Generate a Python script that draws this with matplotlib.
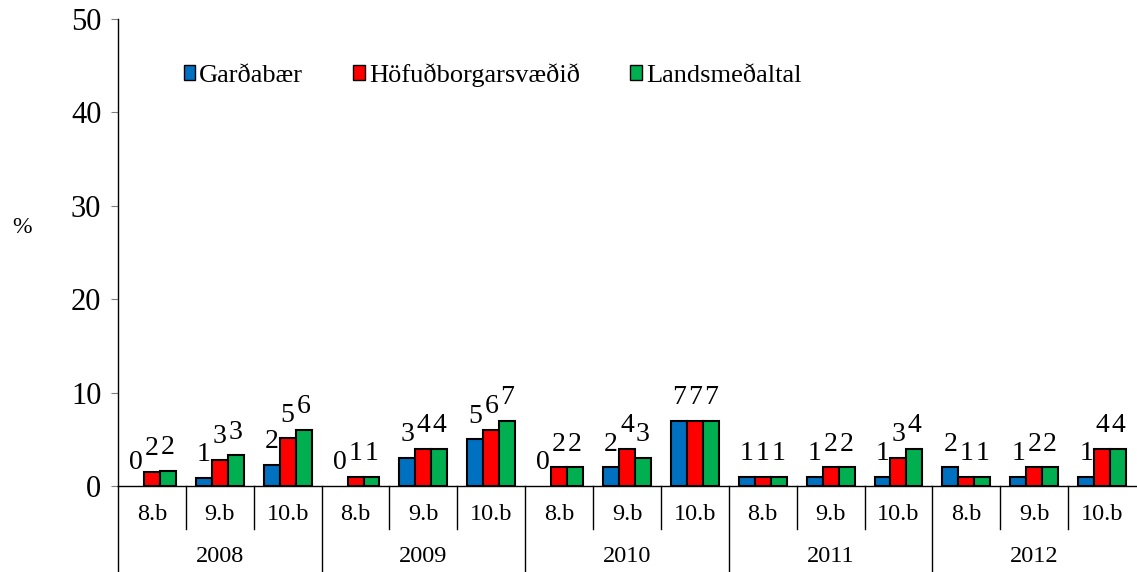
import matplotlib.pyplot as plt
import numpy as np

plt.rcParams['font.family'] = ['Liberation Serif', 'DejaVu Serif']

years = ["2008", "2009", "2010", "2011", "2012"]
grades = ["8.b", "9.b", "10.b"]

gardabaer = [0.0, 0.9, 2.25, 0.0, 3.0, 5.0, 0.0, 2.0, 7.0, 1.0, 1.0, 1.0, 2.0, 1.0, 1.0]
hofudborg = [1.5, 2.8, 5.1, 1.0, 4.0, 6.0, 2.0, 4.0, 7.0, 1.0, 2.0, 3.0, 1.0, 2.0, 4.0]
landsmedal = [1.6, 3.3, 6.0, 1.0, 4.0, 7.0, 2.0, 3.0, 7.0, 1.0, 2.0, 4.0, 1.0, 2.0, 4.0]

series = [("Garðabær", gardabaer, "#0070C0"),
          ("Höfuðborgarsvæðið", hofudborg, "#FF0000"),
          ("Landsmeðaltal", landsmedal, "#00B050")]

fig = plt.figure(figsize=(11.37, 5.72), dpi=100)
ax = fig.add_axes([118/1137, 86/572, 1018/1137, 467/572])

n = len(gardabaer)
x = np.arange(n) + 0.5
bar_width = 0.235

for k, (name, vals, color) in enumerate(series):
    pos = x + (k - 1) * bar_width
    lw = [1.5 if v > 0 else 0 for v in vals]
    ax.bar(pos, vals, width=bar_width, color=color, edgecolor="black",
           linewidth=lw, label=name, zorder=3)
    for px, v in zip(pos, vals):
        ax.annotate("{:.0f}".format(v), (px, v), xytext=(0, 12), textcoords="offset points",
                    ha="center", va="baseline", fontsize=20, annotation_clip=False)

ax.set_xlim(0, n)
ax.set_ylim(0, 50)
ax.set_yticks([0, 10, 20, 30, 40, 50])
ax.tick_params(axis="y", labelsize=22, length=5, color="#808080", pad=7)
ax.set_xticks([])
for s in ["top", "right"]:
    ax.spines[s].set_visible(False)
ax.spines["left"].set_linewidth(1)
ax.spines["bottom"].set_linewidth(1)

# two-level category axis
trans = ax.get_xaxis_transform()
for i in range(n):
    if i % 3 == 0:
        ax.plot([i, i], [0, -86/467], color="black", linewidth=1, transform=trans, clip_on=False)
    else:
        ax.plot([i, i], [0, -43/467], color="black", linewidth=1, transform=trans, clip_on=False)
for i in range(n):
    ax.text(i + 0.5, -28/467, grades[i % 3], ha="center", va="center",
            fontsize=17.5, transform=trans)
for j, yr in enumerate(years):
    ax.text(j * 3 + 1.5, -71/467, yr, ha="center", va="center",
            fontsize=17.5, transform=trans)

fig.text(22/1137, 1 - 228/572, "%", ha="center", va="center", fontsize=17)

leg = ax.legend(loc="center left", bbox_to_anchor=(0.054, 0.88), ncol=3, frameon=False,
                fontsize=19, handlelength=0.45, handleheight=0.45, handletextpad=0.15,
                columnspacing=1.9, borderaxespad=0)
for h in leg.legend_handles:
    h.set_linewidth(1)

plt.savefig("out.png", dpi=100)
